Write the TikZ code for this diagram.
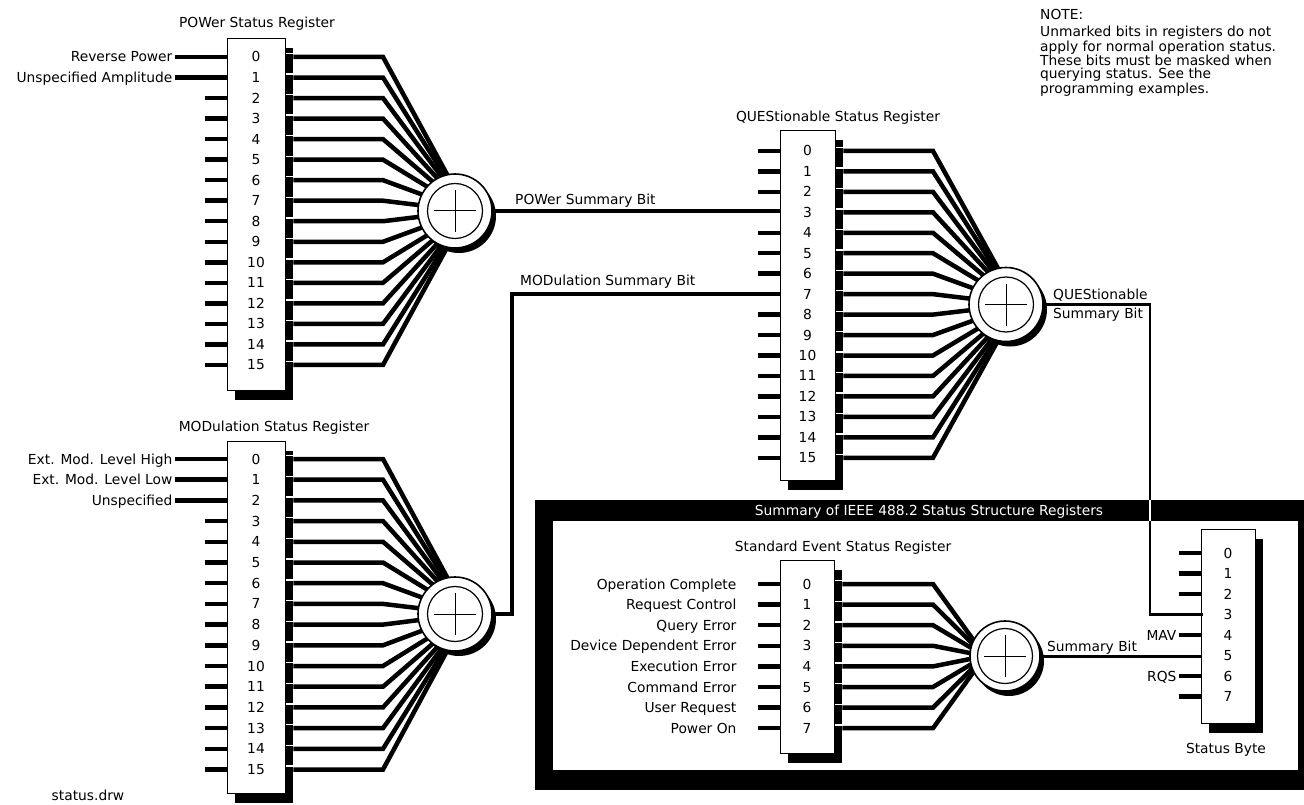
\documentclass[tikz,border=0pt]{standalone}
\usepackage{fontspec}
\setmainfont{DejaVu Sans}
\usetikzlibrary{calc,positioning,shadows}
\newcommand\dgmfont{\fontsize{13.8}{13.3}\selectfont}
\tikzset{
  regbox/.style={draw=black, fill=white, line width=0.8pt, inner sep=0pt,
                 drop shadow={shadow xshift=8pt, shadow yshift=-10pt, opacity=1, fill=black}},
  bitnum/.style={inner sep=0pt, text height=10pt, text depth=0pt},
  lbl/.style={inner sep=2pt, text height=10pt, text depth=0pt},
  stub/.style={line width=4.5pt},
  fan/.style={line width=4.5pt},
  notch/.style={draw=white, line width=1.4pt},
  sumwire/.style={line width=3.5pt},
  thinwire/.style={line width=2.5pt},
  eswire/.style={line width=3pt},
  sumnode/.style={circle, draw=black, fill=white, line width=1.6pt, minimum size=74pt, inner sep=0pt,
    drop shadow={shadow xshift=4pt, shadow yshift=-5pt, opacity=1, fill=black},
    path picture={
      \draw[line width=1.2pt] (path picture bounding box.center) circle[radius=27.5pt];
      \draw[line width=1pt] ($(path picture bounding box.center)+(-21pt,0pt)$) -- ++(42pt,0pt);
      \draw[line width=1pt] ($(path picture bounding box.center)+(0pt,-21pt)$) -- ++(0pt,42pt);
    }}
}

\begin{document}
\begin{tikzpicture}[x=1pt,y=-1pt,font=\dgmfont]
  \fill[white] (0,0) rectangle (1304,805);
  \useasboundingbox (0,0) rectangle (1304,805);

  % IEEE 488.2 summary frame
  \fill[black] (535,500) rectangle (1304,790);
  \fill[white] (553,521) rectangle (1298,770);
  \coordinate (bartop) at (0,500);
  \coordinate (barbot) at (0,521);
  \node[lbl,text=white] (ieeettl) at (929,510.5) {Summary of IEEE 488.2 Status Structure Registers};

  % POWer status register
  \node[lbl] (pwttl) at (257,23) {POWer Status Register};
  \node[regbox,minimum width=58pt,minimum height=352pt] (pwbox) at (256,214) {};
  \foreach \i in {0,...,15}
    {\node[bitnum] (pw\i) at (256,{57+20.53*\i}) {\i};}
  \node[lbl,anchor=east] (pwrev) at ($(pwbox.west |- pw0)+(-52,0)$) {Reverse Power};
  \node[lbl,anchor=east] (pwamp) at ($(pwbox.west |- pw1)+(-52,0)$) {Unspecified Amplitude};
  \draw[stub] (pwrev.east) -- (pwbox.west |- pw0);
  \draw[stub] (pwamp.east) -- (pwbox.west |- pw1);
  \foreach \i in {2,...,15}
    {\draw[stub] ($(pwbox.west |- pw\i)+(-22,0)$) -- (pwbox.west |- pw\i);}
  \coordinate (pwbend) at (383,0);
  \coordinate (pwc) at (455,211);
  \foreach \i in {0,...,15} {
    \draw[notch] ($(pwbox.east |- pw\i)+(0.5,-3.4)$) -- ++(7,0);
    \draw[fan] ($(pwbox.east |- pw\i)+(8,0)$) -- (pwbend |- pw\i) -- ($(pwc)+(12,0)$);
  }

  % MODulation status register
  \node[lbl] (mdttl) at (274,426) {MODulation Status Register};
  \node[regbox,minimum width=58pt,minimum height=352pt] (mdbox) at (256,617) {};
  \foreach \i in {0,...,15}
    {\node[bitnum] (md\i) at (256,{459+20.7*\i}) {\i};}
  \node[lbl,anchor=east] (mdhi) at ($(mdbox.west |- md0)+(-52,0)$) {Ext. Mod. Level High};
  \node[lbl,anchor=east] (mdlo) at ($(mdbox.west |- md1)+(-52,0)$) {Ext. Mod. Level Low};
  \node[lbl,anchor=east] (mdun) at ($(mdbox.west |- md2)+(-52,0)$) {Unspecified};
  \draw[stub] (mdhi.east) -- (mdbox.west |- md0);
  \draw[stub] (mdlo.east) -- (mdbox.west |- md1);
  \draw[stub] (mdun.east) -- (mdbox.west |- md2);
  \foreach \i in {3,...,15}
    {\draw[stub] ($(mdbox.west |- md\i)+(-22,0)$) -- (mdbox.west |- md\i);}
  \coordinate (mdbend) at (383,0);
  \coordinate (mdc) at (455,614);
  \foreach \i in {0,...,15} {
    \draw[notch] ($(mdbox.east |- md\i)+(0.5,-3.4)$) -- ++(7,0);
    \draw[fan] ($(mdbox.east |- md\i)+(8,0)$) -- (mdbend |- md\i) -- ($(mdc)+(12,0)$);
  }

  % QUEStionable status register
  \node[lbl] (qsttl) at (838,117) {QUEStionable Status Register};
  \node[regbox,minimum width=55pt,minimum height=350pt] (qsbox) at (807.5,305) {};
  \foreach \i in {0,...,15}
    {\node[bitnum] (qs\i) at (807.5,{151+20.45*\i}) {\i};}
  \foreach \i in {0,1,2,4,5,6,8,9,10,11,12,13,14,15}
    {\draw[stub] ($(qsbox.west |- qs\i)+(-22,0)$) -- (qsbox.west |- qs\i);}
  \coordinate (qsbend) at (933,0);
  \coordinate (qsc) at (1006,304.5);
  \foreach \i in {0,...,15} {
    \draw[notch] ($(qsbox.east |- qs\i)+(0.5,-3.4)$) -- ++(7,0);
    \draw[fan] ($(qsbox.east |- qs\i)+(8,0)$) -- (qsbend |- qs\i) -- ($(qsc)+(12,0)$);
  }

  % standard event status register
  \node[lbl] (esttl) at (843,546) {Standard Event Status Register};
  \node[regbox,minimum width=54pt,minimum height=193pt] (esbox) at (807,656.5) {};
  \foreach \i in {0,...,7}
    {\node[bitnum] (es\i) at (807,{584+20.6*\i}) {\i};}
  \foreach \i/\txt in {0/Operation Complete,1/Request Control,2/Query Error,3/Device Dependent Error,
                       4/Execution Error,5/Command Error,6/User Request,7/Power On} {
    \node[lbl,anchor=east] (esl\i) at ($(esbox.west |- es\i)+(-41,0)$) {\txt};
    \draw[stub] ($(esbox.west |- es\i)+(-22,0)$) -- (esbox.west |- es\i);
  }
  \coordinate (esbend) at (933,0);
  \coordinate (esc) at (1005,656);
  \foreach \i in {0,...,7} {
    \draw[notch] ($(esbox.east |- es\i)+(0.5,-3.4)$) -- ++(7,0);
    \draw[fan] ($(esbox.east |- es\i)+(8,0)$) -- (esbend |- es\i) -- ($(esc)+(-20,0)$);
  }

  % status byte
  \node[regbox,minimum width=54pt,minimum height=194pt] (sbbox) at (1228,626) {};
  \foreach \i in {0,...,7}
    {\node[bitnum] (sb\i) at (1228,{553+20.5*\i}) {\i};}
  \node[lbl] (sbttl) at (1226,748) {Status Byte};
  \foreach \i in {0,1,2,7}
    {\draw[stub] ($(sbbox.west |- sb\i)+(-22,0)$) -- (sbbox.west |- sb\i);}
  \node[lbl,anchor=east] (mav) at ($(sbbox.west |- sb4)+(-22,0)$) {MAV};
  \node[lbl,anchor=east] (rqs) at ($(sbbox.west |- sb6)+(-22,0)$) {RQS};
  \draw[stub] (mav.east) -- (sbbox.west |- sb4);
  \draw[stub] (rqs.east) -- (sbbox.west |- sb6);

  % summary bits
  \draw[sumwire] (pwc) -- (pwc -| qsbox.west);
  \node[lbl,anchor=west] (pwsb) at (513,200) {POWer Summary Bit};
  \draw[sumwire] (mdc) -- ++(57,0) |- (qsbox.west |- qs7);
  \node[lbl,anchor=west] (mdsb) at (518,280) {MODulation Summary Bit};
  \coordinate (qsdrop) at ($(qsc)+(144,0)$);
  \draw[thinwire] (qsc) -- (qsdrop) |- ($(sbbox.west |- sb3)+(2,0)$);
  \draw[thinwire,white] (qsdrop |- bartop) -- (qsdrop |- barbot);
  \node[lbl,anchor=west] (qssb) at (1051,294) {QUEStionable};
  \node[lbl,anchor=west] (qssbb) at (1051,313) {Summary Bit};
  \draw[eswire] (esc) -- (esc -| sbbox.west);
  \node[lbl,anchor=west] (essb) at (1045,646) {Summary Bit};

  % summing junctions
  \node[sumnode] (pwsum) at (pwc) {};
  \node[sumnode] (mdsum) at (mdc) {};
  \node[sumnode] (qssum) at (qsc) {};
  \node[sumnode,minimum size=70pt] (essum) at (esc) {};

  % note and file name
  \node[lbl,anchor=west,inner sep=0pt] (notehd) at (1040,15) {NOTE:};
  \node[anchor=north west,inner sep=0pt,align=left] (notetxt) at (1040,26)
    {Unmarked bits in registers do not\\apply for normal operation status.\\These bits must be masked when\\querying status. See the\\programming examples.};
  \node[lbl] (fname) at (88,795) {status.drw};
\end{tikzpicture}
\end{document}
